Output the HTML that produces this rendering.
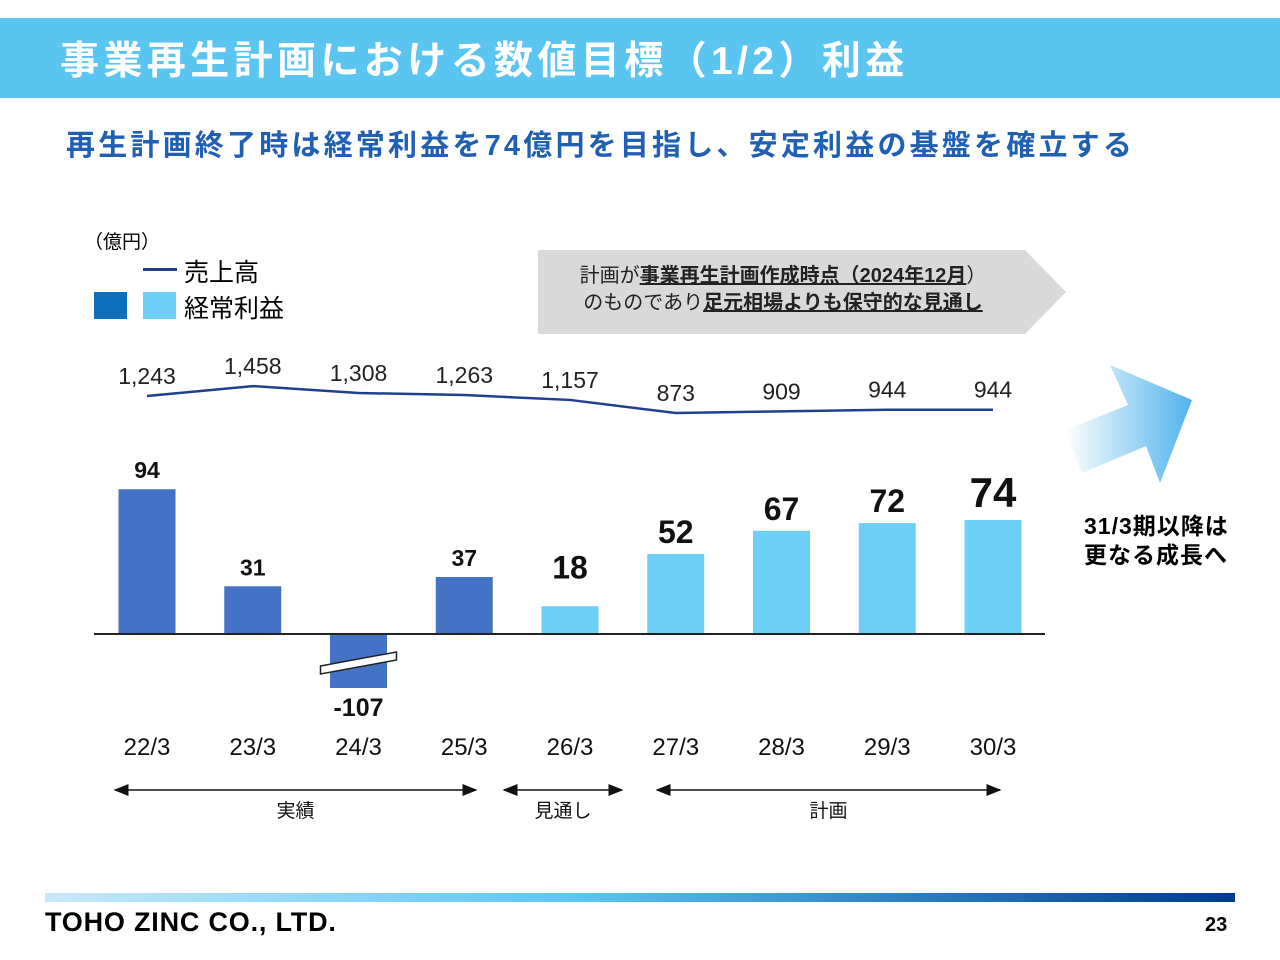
<!DOCTYPE html>
<html><head><meta charset="utf-8"><style>
body{margin:0;width:1280px;height:960px;background:#fff;font-family:"Liberation Sans","Noto Sans CJK JP",sans-serif;position:relative;overflow:hidden}
.abs{position:absolute}
</style></head><body>
<div class="abs" style="left:0;top:18px;width:1280px;height:80px;background:#5BC5F2"></div>
<div class="abs" style="left:60px;top:30px;font-size:39px;font-weight:bold;color:#fff;letter-spacing:4.4px;white-space:nowrap">事業再生計画における数値目標（1/2）利益</div>
<div class="abs" style="left:66px;top:122px;font-size:29px;font-weight:bold;color:#1F5FB4;letter-spacing:3.2px;white-space:nowrap">再生計画終了時は経常利益を74億円を目指し、安定利益の基盤を確立する</div>
<div class="abs" style="left:84px;top:227px;font-size:19px">（億円）</div>
<div class="abs" style="left:143px;top:268px;width:34px;height:3px;background:#1F3F8F"></div>
<div class="abs" style="left:184px;top:253px;font-size:25px">売上高</div>
<div class="abs" style="left:94px;top:292px;width:33px;height:27px;background:#0E6FBD"></div>
<div class="abs" style="left:143px;top:292px;width:33px;height:27px;background:#6DCFF6"></div>
<div class="abs" style="left:184px;top:289px;font-size:25px">経常利益</div>
<svg class="abs" style="left:538px;top:250px" width="530" height="85"><polygon points="0,0 487,0 528,42 487,84 0,84" fill="#D9D9D9"/></svg>
<div class="abs" style="left:528px;top:263px;width:510px;text-align:center;font-size:20px;line-height:27px;color:#222;white-space:nowrap">計画が<b><u>事業再生計画作成時点（2024年12月</u></b>）<br>のものであり<b><u>足元相場よりも保守的な見通し</u></b></div>
<svg class="abs" style="left:1060px;top:360px" width="140" height="130"><defs><linearGradient id="g" x1="0" x2="1"><stop offset="0" stop-color="#fff"/><stop offset="1" stop-color="#4FB3EC"/></linearGradient></defs><polygon points="5,70 68,45 50,5 132,40 100,123 86,86 22,113" fill="url(#g)"/></svg>
<div class="abs" style="left:1084px;top:512px;font-size:23px;font-weight:bold;line-height:29px;letter-spacing:1px">31/3期以降は<br>更なる成長へ</div>
<svg id="chart" class="abs" style="left:0;top:0" width="1280" height="960"></svg>
<div class="abs" style="left:45px;top:893px;width:1190px;height:9px;background:linear-gradient(90deg,#C6E9FB,#5BC5F2 45%,#003A8C)"></div>
<div class="abs" style="left:45px;top:907px;font-size:27px;font-weight:900;letter-spacing:0.8px">TOHO ZINC CO., LTD.</div>
<div class="abs" style="left:1205px;top:914px;font-size:20px;font-weight:bold">23</div>
<script>
const categories=["22/3","23/3","24/3","25/3","26/3","27/3","28/3","29/3","30/3"];
const profit=[94,31,-107,37,18,52,67,72,74];
const sales=[1243,1458,1308,1263,1157,873,909,944,944];
const profitLabels=["94","31","-107","37","18","52","67","72","74"];
const salesLabels=["1,243","1,458","1,308","1,263","1,157","873","909","944","944"];
const actualCount=4;
const NS="http://www.w3.org/2000/svg";
const svg=document.getElementById('chart');
const x=i=>147+i*105.75;
const base=634;
const yb=v=>base-v*1.54;
const ys=v=>413-(v-873)*0.046;
function mk(t,a){const e=document.createElementNS(NS,t);for(const k in a)e.setAttribute(k,a[k]);svg.appendChild(e);return e;}
const fs=[23,23,25,23,32,32,32,32,42];
const gap=[11,11,28,11,28,11,11,11,13];
profit.forEach((v,i)=>{
  let top=yb(v),h=base-top;
  if(v<0){top=base;h=54;}
  const r=mk('rect',{x:x(i)-28.5,y:top,width:57,height:h,fill:i<actualCount?'#4472C4':'#6DCFF6'});
  
  
  const ty=v<0?base+h+28:top-gap[i];
  const t=mk('text',{x:x(i),y:ty,'text-anchor':'middle','font-size':fs[i],'font-weight':'bold',fill:'#111'});
  t.textContent=profitLabels[i];
  
  
  if(v<0){
    const b=mk('polygon',{points:`${x(i)-38},${base+32} ${x(i)+38},${base+18} ${x(i)+38},${base+26} ${x(i)-38},${base+40}`,fill:'#fff',stroke:'#222','stroke-width':1.5});
    
    
  }
  const c=mk('text',{x:x(i),y:755,'text-anchor':'middle','font-size':24,fill:'#111'});
  c.textContent=categories[i];
  
  
});
const ax=mk('line',{x1:94,x2:1045,y1:base,y2:base,stroke:'#222','stroke-width':2});


const pl=mk('polyline',{points:sales.map((v,i)=>x(i)+','+ys(v)).join(' '),fill:'none',stroke:'#1F3F8F','stroke-width':2.5});


sales.forEach((v,i)=>{
  const t=mk('text',{x:x(i),y:ys(v)-12,'text-anchor':'middle','font-size':23,fill:'#222'});
  t.textContent=salesLabels[i];
  
  
});
mk('defs',{}).innerHTML='<marker id="ah" markerWidth="10" markerHeight="10" refX="9" refY="5" orient="auto-start-reverse"><path d="M0,1 L10,5 L0,9 z" fill="#111"/></marker>';
[[115,476,'実績','period-actual'],[504,622,'見通し','period-forecast'],[657,1000,'計画','period-plan']].forEach(p=>{
  const l=mk('line',{x1:p[0],x2:p[1],y1:790,y2:790,stroke:'#111','stroke-width':1.5,'marker-start':'url(#ah)','marker-end':'url(#ah)'});
  
  
  const t=mk('text',{x:(p[0]+p[1])/2,y:817,'text-anchor':'middle','font-size':19,fill:'#111'});
  t.textContent=p[2];
  
  
});
</script>
</body></html>
